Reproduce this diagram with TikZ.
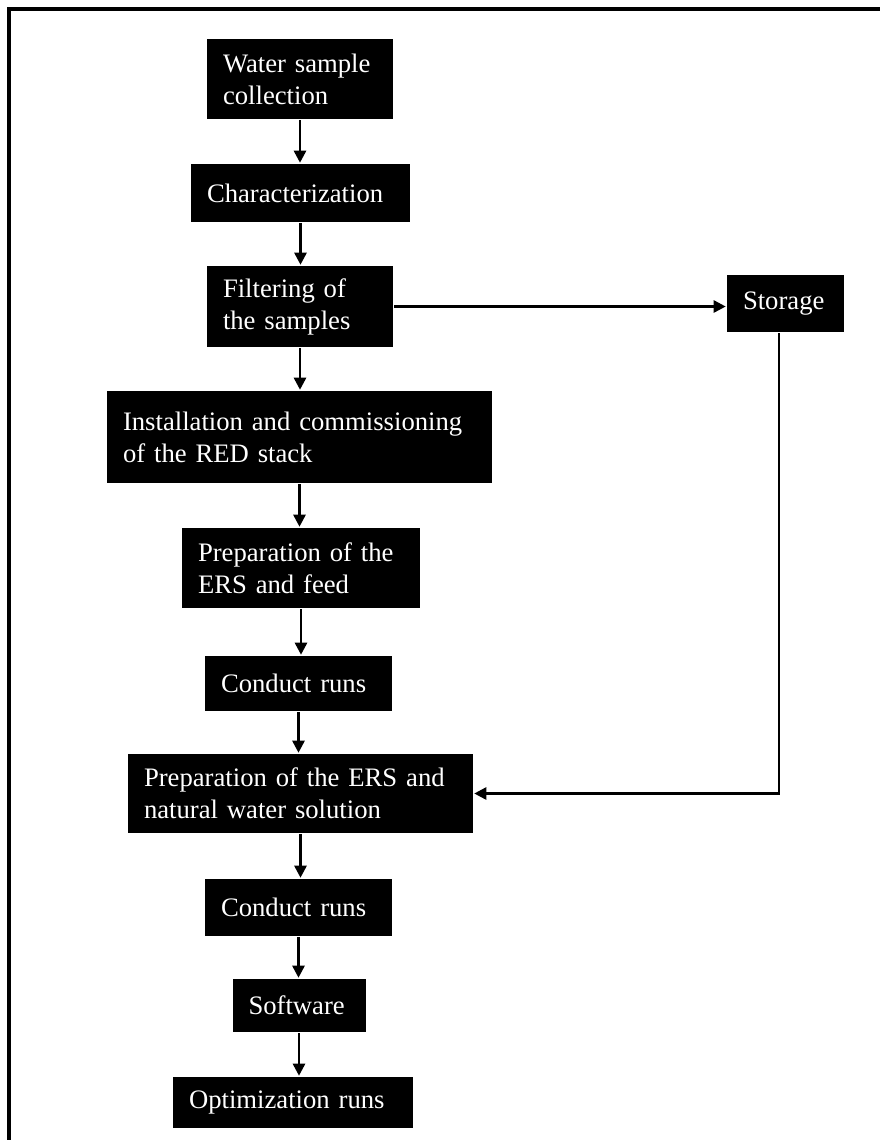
\documentclass[tikz,border=0pt]{standalone}
\usepackage{fontspec}
\setmainfont{Liberation Serif}
\usetikzlibrary{arrows, shapes, positioning, arrows.meta}

\begin{document}
\begin{tikzpicture}[x=0.75pt, y=-0.75pt, line width=1.9pt,
  stepbox/.style={fill=black, text=white, align=left, inner xsep=12pt, inner ysep=0pt, font=\fontsize{20pt}{24pt}\selectfont},
  >={Triangle[length=9pt, width=9pt]}]
\useasboundingbox (0,0) rectangle (880,1140);
\draw[line width=2.6pt] (9,1160) -- (9,9) -- (900,9);
\node (collect)[stepbox, text width=115.5pt, minimum height=60pt] at (300,79) {Water sample\\collection};
\node (charac)[stepbox, text width=140.25pt, minimum height=43.5pt] at (300.5,193) {Characterization};
\node (filter)[stepbox, text width=115.5pt, minimum height=60.75pt] at (300,306.5) {Filtering of\\the samples};
\node (store)[stepbox, text width=63.75pt, minimum height=42.75pt] at (785.5,303.5) {Storage};
\node (install)[stepbox, text width=264.75pt, minimum height=69pt] at (299.5,437) {Installation and commissioning\\of the RED stack\\[-10pt]};
\node (prepA)[stepbox, text width=154.5pt, minimum height=60pt] at (301,568) {Preparation of the\\ERS and feed};
\node (runsA)[stepbox, text width=116.25pt, minimum height=41.25pt] at (298.5,683.5) {Conduct runs};
\node (prepB)[stepbox, text width=234.75pt, minimum height=59.25pt] at (300.5,793.5) {Preparation of the ERS and\\natural water solution};
\node (runsB)[stepbox, text width=116.25pt, minimum height=42.75pt] at (298.5,907.5) {Conduct runs};
\node (soft)[stepbox, text width=75.75pt, minimum height=39.75pt] at (299,1005.5) {Software};
\node (optim)[stepbox, text width=156pt, minimum height=38.25pt] at (293,1102.5) {Optimization runs};
\draw[->] (collect) -- (collect |- charac.north);
\draw[->] (charac) -- (charac |- filter.north);
\draw[->] (filter) -- (filter |- install.north);
\draw[->] (install) -- (install |- prepA.north);
\draw[->] (prepA) -- (prepA |- runsA.north);
\draw[->] (runsA) -- (runsA |- prepB.north);
\draw[->] (prepB) -- (prepB |- runsB.north);
\draw[->] (runsB) -- (runsB |- soft.north);
\draw[->] (soft) -- (soft |- optim.north);
\draw[->] (filter) -- (filter -| store.west);
\draw[->] ([xshift=-5pt]store.south) |- (prepB);
\end{tikzpicture}
\end{document}
